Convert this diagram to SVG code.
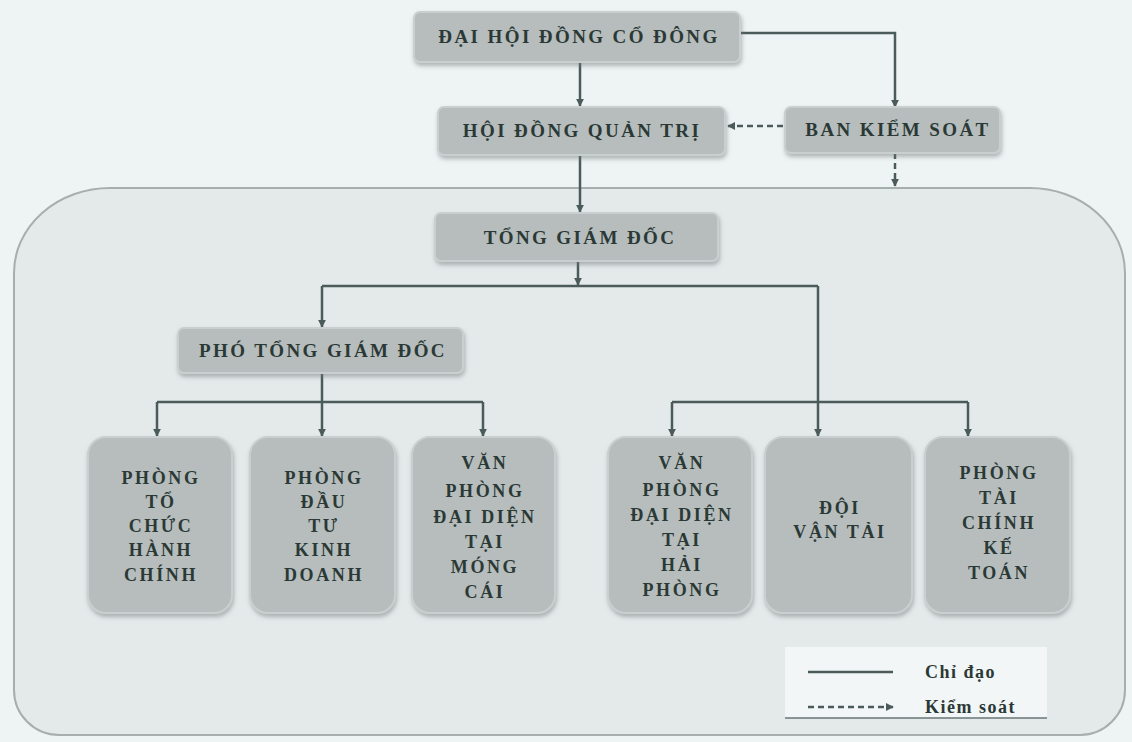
<svg xmlns="http://www.w3.org/2000/svg" width="1132" height="742" viewBox="0 0 1132 742">
<style>
.bg{fill:#eef3f4}
.cont{fill:#e4e9ea;stroke:#a7aeae;stroke-width:2}
.box{fill:#b6bdbc;stroke:#c9cfce;stroke-width:2;filter:url(#sh)}
.t{font-family:"Liberation Serif","DejaVu Serif",serif;font-weight:bold;font-size:19px;fill:#2b3936;text-anchor:middle;letter-spacing:2.4px}
.tb{font-family:"Liberation Serif","DejaVu Serif",serif;font-weight:bold;font-size:18px;fill:#2b3936;text-anchor:middle;letter-spacing:2.6px}
.lg{font-family:"Liberation Serif","DejaVu Serif",serif;font-weight:bold;font-size:18px;fill:#2b3936;letter-spacing:1.5px}
.c{fill:none;stroke:#4b5b5a;stroke-width:2.5}
.d{fill:none;stroke:#4b5b5a;stroke-width:2.5;stroke-dasharray:6 4}
</style>
<defs>
<filter id="sh" x="-10%" y="-10%" width="120%" height="130%">
<feDropShadow dx="1" dy="3" stdDeviation="2" flood-color="#6f7878" flood-opacity="0.5"/>
</filter>
<marker id="arr" viewBox="0 0 10 10" refX="9" refY="5" markerWidth="8" markerHeight="8" markerUnits="userSpaceOnUse" orient="auto">
<path d="M0,0 L10,5 L0,10 Z" fill="#4b5b5a"/>
</marker>
</defs>
<rect class="bg" x="0" y="0" width="1132" height="742"/>
<path class="cont" d="M14,273 A96,85 0 0 1 110,188 H1030 A95,85 0 0 1 1125,273 V690 A45,45 0 0 1 1080,735 H59 A45,45 0 0 1 14,690 Z"/>

<g id="connectors">
<path class="c" d="M580,62 V106" marker-end="url(#arr)"/>
<path class="c" d="M740,33 H895 V107" marker-end="url(#arr)"/>
<path class="d" d="M783,126 H728" marker-end="url(#arr)"/>
<path class="d" d="M895,153 V186" marker-end="url(#arr)"/>
<path class="c" d="M580,155 V212" marker-end="url(#arr)"/>
<path class="c" d="M578,262 V285" marker-end="url(#arr)"/>
<path class="c" d="M322,286 H818"/>
<path class="c" d="M322,286 V327" marker-end="url(#arr)"/>
<path class="c" d="M818,286 V436" marker-end="url(#arr)"/>
<path class="c" d="M322,373 V402"/>
<path class="c" d="M157,402 H483"/>
<path class="c" d="M157,402 V436" marker-end="url(#arr)"/>
<path class="c" d="M322,402 V436" marker-end="url(#arr)"/>
<path class="c" d="M483,402 V436" marker-end="url(#arr)"/>
<path class="c" d="M672,402 H968"/>
<path class="c" d="M672,402 V436" marker-end="url(#arr)"/>
<path class="c" d="M968,402 V436" marker-end="url(#arr)"/>
</g>

<g id="dhdcd">
<rect class="box" x="414" y="12" width="326" height="50" rx="6"/>
<text class="t" x="579" y="43">ĐẠI HỘI ĐỒNG CỔ ĐÔNG</text>
</g>
<g id="hdqt">
<rect class="box" x="438" y="107" width="287" height="48" rx="6"/>
<text class="t" x="582" y="137">HỘI ĐỒNG QUẢN TRỊ</text>
</g>
<g id="bks">
<rect class="box" x="785" y="107" width="215" height="46" rx="6"/>
<text class="t" x="898" y="136">BAN KIỂM SOÁT</text>
</g>
<g id="tgd">
<rect class="box" x="435" y="213" width="283" height="48" rx="6"/>
<text class="t" x="580" y="244">TỔNG GIÁM ĐỐC</text>
</g>
<g id="ptgd">
<rect class="box" x="178" y="328" width="285" height="45" rx="6"/>
<text class="t" x="323" y="357">PHÓ TỔNG GIÁM ĐỐC</text>
</g>

<g id="b1">
<rect class="box" x="88" y="437" width="144" height="176" rx="18"/>
<text class="tb" x="161" y="484">PHÒNG</text>
<text class="tb" x="161" y="508">TỔ</text>
<text class="tb" x="161" y="532">CHỨC</text>
<text class="tb" x="161" y="556">HÀNH</text>
<text class="tb" x="161" y="581">CHÍNH</text>
</g>
<g id="b2">
<rect class="box" x="250" y="437" width="145" height="176" rx="18"/>
<text class="tb" x="324" y="484">PHÒNG</text>
<text class="tb" x="324" y="508">ĐẦU</text>
<text class="tb" x="324" y="532">TƯ</text>
<text class="tb" x="324" y="556">KINH</text>
<text class="tb" x="324" y="581">DOANH</text>
</g>
<g id="b3">
<rect class="box" x="412" y="437" width="143" height="176" rx="18"/>
<text class="tb" x="485" y="469">VĂN</text>
<text class="tb" x="485" y="497">PHÒNG</text>
<text class="tb" x="485" y="523">ĐẠI DIỆN</text>
<text class="tb" x="485" y="548">TẠI</text>
<text class="tb" x="485" y="573">MÓNG</text>
<text class="tb" x="485" y="598">CÁI</text>
</g>
<g id="b4">
<rect class="box" x="608" y="437" width="144" height="176" rx="18"/>
<text class="tb" x="682" y="469">VĂN</text>
<text class="tb" x="682" y="496">PHÒNG</text>
<text class="tb" x="682" y="521">ĐẠI DIỆN</text>
<text class="tb" x="682" y="546">TẠI</text>
<text class="tb" x="682" y="571">HẢI</text>
<text class="tb" x="682" y="596">PHÒNG</text>
</g>
<g id="b5">
<rect class="box" x="765" y="437" width="147" height="176" rx="18"/>
<text class="tb" x="840" y="514">ĐỘI</text>
<text class="tb" x="840" y="538">VẬN TẢI</text>
</g>
<g id="b6">
<rect class="box" x="925" y="437" width="145" height="176" rx="18"/>
<text class="tb" x="999" y="479">PHÒNG</text>
<text class="tb" x="999" y="504">TÀI</text>
<text class="tb" x="999" y="529">CHÍNH</text>
<text class="tb" x="999" y="554">KẾ</text>
<text class="tb" x="999" y="579">TOÁN</text>
</g>

<g id="legend">
<rect x="785" y="647" width="262" height="71" fill="#f3f6f7"/>
<path d="M785,718 H1047" stroke="#6a7474" stroke-width="1.5"/>
<path class="c" d="M808,672 H893"/>
<path class="d" d="M808,707 H893" marker-end="url(#arr)"/>
<text class="lg" x="925" y="678">Chỉ đạo</text>
<text class="lg" x="925" y="713">Kiểm soát</text>
</g>
</svg>
